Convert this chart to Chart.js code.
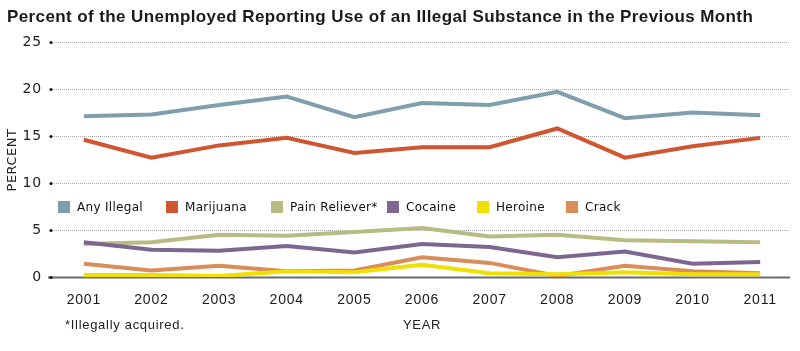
<!DOCTYPE html>
<html>
<head>
<meta charset="utf-8">
<script src="https://cdn.jsdelivr.net/npm/chart.js@4.4.0/dist/chart.umd.min.js"></script>
<style>
  html, body { margin: 0; padding: 0; background: #fff; }
  #wrap { width: 800px; height: 351px; position: relative; }
</style>
</head>
<body>
<div id="wrap"><canvas id="chart"></canvas></div>
<script>
// chart data
const years = ['2001', '2002', '2003', '2004', '2005', '2006', '2007', '2008', '2009', '2010', '2011'];
const anyIllegal = [17.1, 17.3, 18.3, 19.2, 17.0, 18.5, 18.3, 19.7, 16.9, 17.5, 17.2];
const marijuana = [14.6, 12.7, 14.0, 14.8, 13.2, 13.8, 13.8, 15.8, 12.7, 13.9, 14.8];
const painReliever = [3.5, 3.7, 4.5, 4.4, 4.8, 5.2, 4.3, 4.5, 3.9, 3.8, 3.7];
const cocaine = [3.7, 2.9, 2.8, 3.3, 2.6, 3.5, 3.2, 2.1, 2.7, 1.4, 1.6];
const heroine = [0.2, 0.2, 0.1, 0.6, 0.5, 1.3, 0.4, 0.3, 0.5, 0.3, 0.3];
const crack = [1.4, 0.7, 1.2, 0.6, 0.7, 2.1, 1.5, 0.1, 1.2, 0.6, 0.4];
const yTicks = [0, 5, 10, 15, 20, 25];

const seriesNames = ['Any Illegal', 'Marijuana', 'Pain Reliever*', 'Cocaine', 'Heroine', 'Crack'];
const seriesData = [anyIllegal, marijuana, painReliever, cocaine, heroine, crack];
const seriesColors = ['#7f9fae', '#cf5631', '#b8bb82', '#7d6690', '#efe000', '#d98d58'];
// which lines sit on top (lower = on top)
const drawOrder = [1, 2, 4, 3, 5, 6];

const legendX = [58, 166, 271, 387, 477, 566];

// dotted grid + dots + legend + extra text
const decorations = {
    id: 'decorations',
    beforeDraw(chart) {
        // a bit of tracking for the tick labels
        chart.ctx.letterSpacing = '0.8px';
    },
    beforeDatasetsDraw(chart) {
        const { ctx, chartArea, scales } = chart;
        const y = scales.y;
        ctx.save();
        yTicks.forEach(v => {
            const py = Math.round(y.getPixelForValue(v)) + 0.5;
            if (v === 0) {
                ctx.strokeStyle = '#6b6b6b';
                ctx.lineWidth = 2;
                ctx.setLineDash([]);
                ctx.beginPath();
                ctx.moveTo(chartArea.left - 2, py);
                ctx.lineTo(chartArea.right - 4, py);
                ctx.stroke();
            } else {
                ctx.strokeStyle = '#a8a8a8';
                ctx.lineWidth = 1;
                ctx.setLineDash([1, 1]);
                ctx.beginPath();
                ctx.moveTo(chartArea.left + 2, py);
                ctx.lineTo(chartArea.right - 4, py);
                ctx.stroke();
            }
            ctx.setLineDash([]);
            ctx.fillStyle = '#111';
            ctx.beginPath();
            ctx.arc(chartArea.left + 1, py, 1.6, 0, Math.PI * 2);
            ctx.fill();
        });
        ctx.restore();
    },
    afterDraw(chart) {
        const { ctx } = chart;
        ctx.save();
        // title
        ctx.fillStyle = '#1a1a1a';
        ctx.letterSpacing = '0.4px';
        ctx.font = 'bold 17px "Liberation Sans Narrow", "Liberation Sans", sans-serif';
        ctx.textBaseline = 'middle';
        ctx.textAlign = 'left';
        ctx.fillText('Percent of the Unemployed Reporting Use of an Illegal Substance in the Previous Month', 7, 17);

        // legend
        ctx.font = '12px "DejaVu Sans", sans-serif';
        ctx.letterSpacing = '0.3px';
        seriesNames.forEach((name, i) => {
            ctx.fillStyle = seriesColors[i];
            ctx.fillRect(legendX[i], 201, 12, 12);
            ctx.fillStyle = '#111';
            ctx.fillText(name, legendX[i] + 19, 208);
        });

        // axis titles
        ctx.letterSpacing = '0.5px';
        ctx.font = '13px "DejaVu Sans", sans-serif';
        ctx.fillStyle = '#222';
        ctx.save();
        ctx.translate(13, 160);
        ctx.rotate(-Math.PI / 2);
        ctx.textAlign = 'center';
        ctx.fillText('PERCENT', 0, 0);
        ctx.restore();

        ctx.letterSpacing = '0.7px';
        ctx.font = '13px "Liberation Sans Narrow", "Liberation Sans", sans-serif';
        ctx.textAlign = 'center';
        ctx.fillText('YEAR', 422, 325);
        ctx.textAlign = 'left';
        ctx.fillText('*Illegally acquired.', 65, 325);
        ctx.restore();
    }
};

const datasets = seriesNames.map((name, i) => ({
    label: name,
    data: seriesData[i],
    borderColor: seriesColors[i],
    backgroundColor: seriesColors[i],
    borderWidth: 4,
    pointRadius: 0,
    tension: 0,
    fill: false,
    order: drawOrder[i]
}));

new Chart(document.getElementById('chart'), {
    type: 'line',
    data: { labels: years, datasets: datasets },
    options: {
        responsive: true,
        maintainAspectRatio: false,
        animation: false,
        layout: { padding: { top: 42, right: 6, left: 0, bottom: 0 } },
        plugins: {
            legend: { display: false },
            title: { display: false },
            tooltip: { enabled: false }
        },
        scales: {
            x: {
                offset: true,
                grid: { display: false, drawTicks: false },
                border: { display: false },
                ticks: {
                    padding: 15,
                    color: '#1a1a1a',
                    font: { family: '"Liberation Sans Narrow", "Liberation Sans", sans-serif', size: 14 }
                },
                afterFit(scale) { scale.height = 74; }
            },
            y: {
                min: 0,
                max: 25,
                grid: { display: false, drawTicks: false },
                border: { display: false },
                ticks: {
                    stepSize: 5,
                    padding: 8,
                    color: '#222',
                    font: { family: '"DejaVu Sans", sans-serif', size: 14 }
                },
                afterFit(scale) { scale.width = 50; }
            }
        }
    },
    plugins: [decorations]
});
</script>
</body>
</html>
